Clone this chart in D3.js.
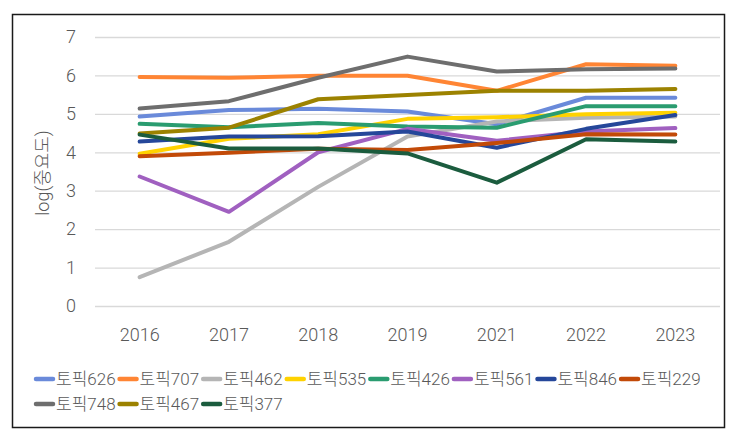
<!DOCTYPE html>
<html><head><meta charset="utf-8">
<script src="https://cdn.jsdelivr.net/npm/d3@7"></script>
<style>
body{margin:0;background:#fff;}
text{font-family:Roboto,"Noto Sans CJK KR",sans-serif;font-weight:300;fill:#595959;}
</style></head>
<body><svg id="c" width="740" height="437"></svg>
<script>
const years = ["2016","2017","2018","2019","2021","2022","2023"];
const yTicks = [0,1,2,3,4,5,6,7];
const seriesNames = ["토픽626","토픽707","토픽462","토픽535","토픽426","토픽561","토픽846","토픽229","토픽748","토픽467","토픽377"];
const seriesColors = ["#6A8ADA","#FF8534","#B5B5B5","#FFD200","#2A9C70","#A060C0","#25479A","#C24A08","#6E6E6E","#9C8200","#1B5C3E"];
const t626 = [4.93,5.10,5.13,5.06,4.73,5.42,5.42];
const t707 = [5.96,5.94,5.99,5.99,5.60,6.29,6.25];
const t462 = [0.75,1.67,3.10,4.41,4.80,4.90,4.93];
const t535 = [3.96,4.35,4.47,4.87,4.91,4.99,5.03];
const t426 = [4.74,4.65,4.76,4.67,4.64,5.20,5.20];
const t561 = [3.37,2.45,4.00,4.61,4.30,4.54,4.63];
const t846 = [4.28,4.41,4.42,4.54,4.12,4.61,4.97];
const t229 = [3.90,3.99,4.09,4.06,4.24,4.47,4.46];
const t748 = [5.14,5.33,5.94,6.49,6.10,6.16,6.18];
const t467 = [4.49,4.64,5.38,5.49,5.60,5.60,5.65];
const t377 = [4.46,4.10,4.10,3.97,3.21,4.34,4.28];
const seriesValues = [t626,t707,t462,t535,t426,t561,t846,t229,t748,t467,t377];

const svg = d3.select("#c");
svg.append("rect").attr("x",12.5).attr("y",14.5).attr("width",712).attr("height",413)
  .attr("fill","#fff").attr("stroke","#1a1a1a").attr("stroke-width",1.5);

const x = d3.scaleBand().domain(years).range([95,720]);
const y = d3.scaleLinear().domain([0,7]).range([306,37]);

const gy = svg.append("g").attr("transform","translate(95,0)")
  .call(d3.axisLeft(y).tickValues(yTicks).tickSize(-625).tickFormat(d3.format("d")).tickPadding(16));
gy.select(".domain").remove();
gy.selectAll(".tick line").attr("stroke","#d9d9d9").attr("stroke-width",1.3);
gy.selectAll(".tick text").attr("font-size",18).attr("fill","#595959").attr("text-anchor","middle").attr("x",-24);

const gx = svg.append("g").attr("transform","translate(0,306)")
  .call(d3.axisBottom(x).tickSize(0).tickPadding(22));
gx.select(".domain").remove();
gx.selectAll(".tick text").attr("font-size",18).attr("fill","#595959");

svg.append("text").attr("transform","translate(49,173) rotate(-90)").attr("text-anchor","middle")
  .attr("font-size",18).text("log(중요도)");

const line = d3.line().x((d,i)=>x(years[i])+x.bandwidth()/2).y(d=>y(d));
seriesValues.forEach((vals,i)=>{
  svg.append("path").datum(vals).attr("d",line).attr("fill","none")
    .attr("stroke",seriesColors[i]).attr("stroke-width",4).attr("stroke-linejoin","round").attr("stroke-linecap","round");
});

const lg = svg.append("g");
let lx = 34, ly = 379;
seriesNames.forEach((n,i)=>{
  const g = lg.append("g");
  g.append("line").attr("x1",2).attr("x2",19).attr("y1",0).attr("y2",0)
    .attr("stroke",seriesColors[i]).attr("stroke-width",4.5).attr("stroke-linecap","round");
  const t = g.append("text").attr("x",22).attr("y",6).attr("font-size",17).text(n);
  const w = 22 + t.node().getComputedTextLength() + 2;
  if (lx + w > 715) { lx = 34; ly += 25; }
  g.attr("transform",`translate(${lx},${ly})`);
  lx += w;
});
</script></body></html>
